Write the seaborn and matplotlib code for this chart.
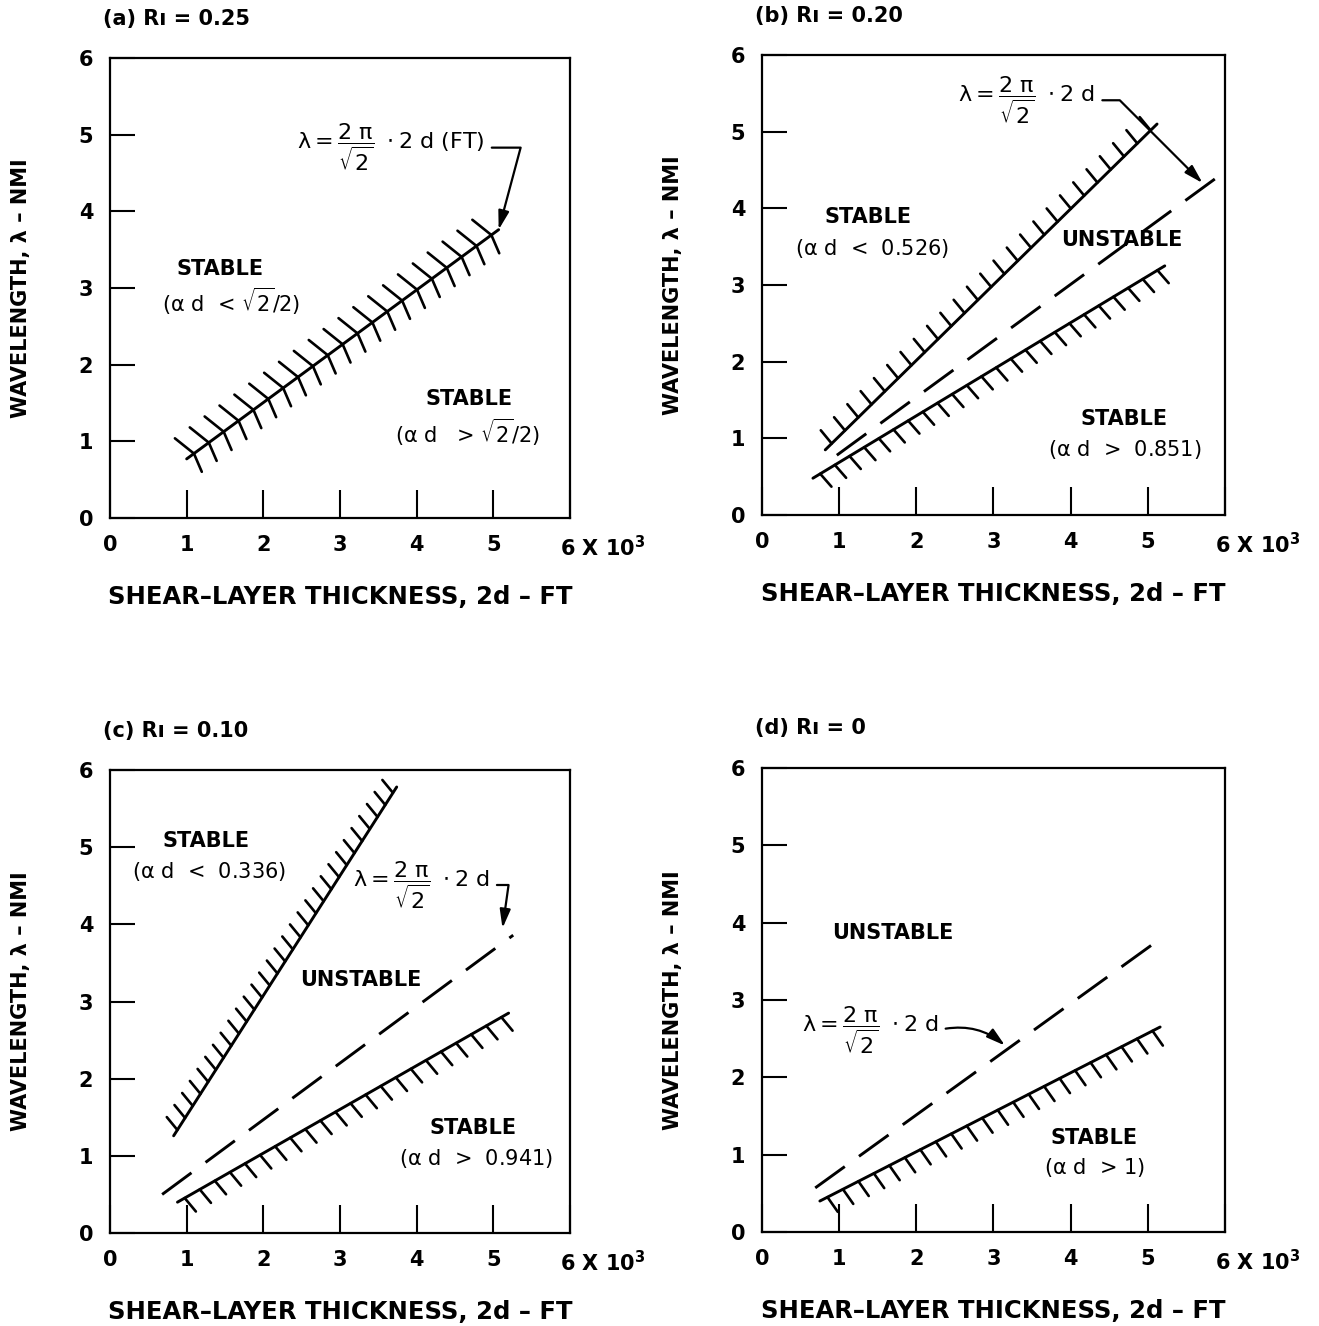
import seaborn as sns
import matplotlib.pyplot as plt
import matplotlib.patheffects as pe
import matplotlib.transforms as mtransforms

# panel titles
titles = ["(a) Rı = 0.25", "(b) Rı = 0.20", "(c) Rı = 0.10", "(d) Rı = 0"]

# boundary lines (2d in 10^3 ft, wavelength in NMI)
a_bound_x = [1.00, 5.07]
a_bound_y = [0.77, 3.76]

b_upper_x = [0.82, 5.12]
b_upper_y = [0.85, 5.10]
b_mid_x = [0.97, 5.96]
b_mid_y = [0.78, 4.45]
b_lower_x = [0.66, 5.22]
b_lower_y = [0.48, 3.25]

c_upper_x = [0.83, 3.74]
c_upper_y = [1.26, 5.78]
c_mid_x = [0.68, 5.26]
c_mid_y = [0.50, 3.86]
c_lower_x = [0.88, 5.20]
c_lower_y = [0.40, 2.85]

d_mid_x = [0.69, 5.12]
d_mid_y = [0.57, 3.76]
d_lower_x = [0.75, 5.16]
d_lower_y = [0.40, 2.65]

x_ticks = [0, 1, 2, 3, 4, 5, 6]
x_tick_labels = ["0", "1", "2", "3", "4", "5", "6 X 10$^3$"]
y_ticks = [0, 1, 2, 3, 4, 5, 6]

sns.set_style("white")
plt.rcParams["font.family"] = ["DejaVu Sans"]
plt.rcParams["mathtext.fontset"] = "dejavusans"
plt.rcParams["mathtext.default"] = "regular"
plt.rcParams["text.color"] = "black"
plt.rcParams["axes.labelcolor"] = "black"
plt.rcParams["xtick.color"] = "black"
plt.rcParams["ytick.color"] = "black"

fig = plt.figure(figsize=(13.19, 13.26), dpi=100)
rects = [
    [0.0834, 0.6094, 0.3487, 0.3469],
    [0.5777, 0.6116, 0.3510, 0.3469],
    [0.0834, 0.0701, 0.3487, 0.3492],
    [0.5777, 0.0709, 0.3510, 0.3500],
]
axes = [fig.add_axes(r) for r in rects]

LW = 2.1
eq = r"$\lambda = \dfrac{2\ \pi}{\sqrt{2}}\ \cdot 2\ d$"
txt_kw = dict(ha="center", va="center", fontsize=15, color="black")
bold_kw = dict(txt_kw, fontweight="bold")
eq_kw = dict(fontsize=16, ha="center", va="center", color="black")
arrow_kw = dict(arrowstyle="-|>,head_length=0.7,head_width=0.2", color="black",
                lw=1.6, shrinkA=3, shrinkB=0, relpos=(1, 0.5))


def ticked(angle, spacing, length):
    return pe.TickedStroke(angle=angle, spacing=spacing, length=length, linewidth=1.9)


def style_axes(ax, title):
    ax.set_xlim(0, 6)
    ax.set_ylim(0, 6)
    ax.set_xticks(x_ticks)
    ax.set_yticks(y_ticks)
    ax.set_xticklabels(x_tick_labels, fontsize=15, fontweight="bold")
    ax.set_yticklabels([str(t) for t in y_ticks], fontsize=15, fontweight="bold")
    ax.tick_params(axis="x", direction="in", length=20, width=1.5, pad=12, bottom=True, top=False)
    ax.tick_params(axis="y", direction="in", length=18, width=1.5, pad=12, left=True, right=False)
    last = ax.get_xticklabels()[-1]
    last.set_horizontalalignment("left")
    last.set_transform(last.get_transform() + mtransforms.ScaledTranslation(-7 / 72, 0, fig.dpi_scale_trans))
    for s in ax.spines.values():
        s.set_linewidth(1.6)
        s.set_color("black")
    ax.set_xlabel("SHEAR–LAYER THICKNESS, 2d – FT", fontsize=17.5, fontweight="bold", labelpad=18)
    ax.set_ylabel("WAVELENGTH, λ – NMI", fontsize=15, fontweight="bold", labelpad=34)
    ax.text(-0.015, 1.085, title, transform=ax.transAxes, ha="left", va="center", fontsize=15, fontweight="bold")


# (a)
ax = axes[0]
sns.lineplot(x=a_bound_x, y=a_bound_y, ax=ax, color="black", lw=LW,
             path_effects=[ticked(105, 13, 1.35), ticked(-103, 13, 1.1), pe.Normal()])
ax.text(1.44, 3.25, "STABLE", **bold_kw)
ax.text(1.58, 2.82, r"($\alpha$ d  < $\sqrt{2}$/2)", **txt_kw)
ax.text(4.68, 1.55, "STABLE", **bold_kw)
ax.text(4.66, 1.11, r"($\alpha$ d   > $\sqrt{2}$/2)", **txt_kw)
ax.annotate(r"$\lambda = \dfrac{2\ \pi}{\sqrt{2}}\ \cdot 2\ d\ (FT)$", xy=(5.07, 3.76),
            xytext=(3.66, 4.83), **eq_kw,
            arrowprops=dict(arrow_kw, connectionstyle="angle,angleA=0,angleB=75,rad=0"))
style_axes(ax, titles[0])

# (b)
ax = axes[1]
sns.lineplot(x=b_upper_x, y=b_upper_y, ax=ax, color="black", lw=LW,
             path_effects=[pe.withTickedStroke(angle=85, spacing=13, length=0.95, linewidth=1.9)])
sns.lineplot(x=b_mid_x, y=b_mid_y, ax=ax, color="black", lw=LW, linestyle=(0, (12.5, 6)))
sns.lineplot(x=b_lower_x, y=b_lower_y, ax=ax, color="black", lw=LW,
             path_effects=[pe.withTickedStroke(angle=-80, spacing=12.3, length=1.0, linewidth=1.9)])
ax.text(1.37, 3.89, "STABLE", **bold_kw)
ax.text(1.42, 3.48, r"($\alpha$ d  <  0.526)", **txt_kw)
ax.text(4.66, 3.59, "UNSTABLE", **bold_kw)
ax.text(4.69, 1.25, "STABLE", **bold_kw)
ax.text(4.70, 0.85, r"($\alpha$ d  >  0.851)", **txt_kw)
ax.annotate(eq, xy=(5.71, 4.33), xytext=(3.43, 5.41), **eq_kw,
            arrowprops=dict(arrow_kw, connectionstyle="angle,angleA=0,angleB=135,rad=0"))
style_axes(ax, titles[1])

# (c)
ax = axes[2]
sns.lineplot(x=c_upper_x, y=c_upper_y, ax=ax, color="black", lw=LW,
             path_effects=[pe.withTickedStroke(angle=72, spacing=10, length=1.2, linewidth=1.9)])
sns.lineplot(x=c_mid_x, y=c_mid_y, ax=ax, color="black", lw=LW, linestyle=(0, (12.5, 6)))
sns.lineplot(x=c_lower_x, y=c_lower_y, ax=ax, color="black", lw=LW,
             path_effects=[pe.withTickedStroke(angle=-80, spacing=12, length=1.05, linewidth=1.9)])
ax.text(1.25, 5.08, "STABLE", **bold_kw)
ax.text(1.29, 4.68, r"($\alpha$ d  <  0.336)", **txt_kw)
ax.text(3.27, 3.28, "UNSTABLE", **bold_kw)
ax.text(4.74, 1.36, "STABLE", **bold_kw)
ax.text(4.78, 0.97, r"($\alpha$ d  >  0.941)", **txt_kw)
ax.annotate(eq, xy=(5.12, 3.95), xytext=(4.06, 4.51), **eq_kw,
            arrowprops=dict(arrow_kw, connectionstyle="angle,angleA=0,angleB=82,rad=0"))
style_axes(ax, titles[2])

# (d)
ax = axes[3]
sns.lineplot(x=d_mid_x, y=d_mid_y, ax=ax, color="black", lw=LW, linestyle=(0, (12.5, 6)))
sns.lineplot(x=d_lower_x, y=d_lower_y, ax=ax, color="black", lw=LW,
             path_effects=[pe.withTickedStroke(angle=-82, spacing=12.3, length=1.05, linewidth=1.9)])
ax.text(1.70, 3.87, "UNSTABLE", **bold_kw)
ax.text(4.31, 1.22, "STABLE", **bold_kw)
ax.text(4.31, 0.83, r"($\alpha$ d  > 1)", **txt_kw)
ax.annotate(eq, xy=(3.15, 2.41), xytext=(1.40, 2.61), **eq_kw,
            arrowprops=dict(arrow_kw, connectionstyle="arc3,rad=-0.25"))
style_axes(ax, titles[3])

fig.savefig("out.png", dpi=100, facecolor="white")
